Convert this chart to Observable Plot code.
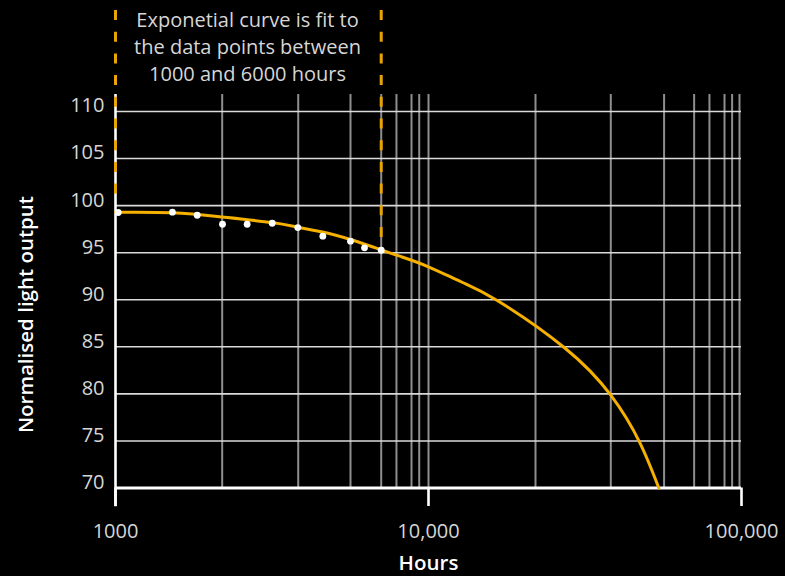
<!DOCTYPE html>
<html><head><meta charset="utf-8">
<script src="https://cdn.jsdelivr.net/npm/d3@7"></script>
<script src="https://cdn.jsdelivr.net/npm/@observablehq/plot@0.6"></script>
<style>
html,body{margin:0;padding:0;background:#000;}
#chart{width:785px;height:576px;}
</style></head><body><div id="chart"></div>
<script>
// measured data points (hours, normalised light output)
const hours = [1020, 1520, 1824, 2197, 2634, 3167, 3823, 4596, 5633, 6245, 7062];
const output = [99.27, 99.30, 98.98, 98.02, 98.02, 98.13, 97.67, 96.75, 96.22, 95.52, 95.26];
// exponential fit curve
const fitHours = [1000, 1520, 2190, 3160, 3830, 4590, 5630, 7062, 8140, 9950, 12800, 16580, 27200, 38230, 47320, 54430];
const fitOutput = [99.3, 99.25, 98.8, 98.2, 97.7, 97.2, 96.4, 95.3, 94.6, 93.53, 91.86, 89.92, 84.9, 79.86, 74.83, 70.0];
const yTicks = [70, 75, 80, 85, 90, 95, 100, 105, 110];
const xTicks = [1000, 10000, 100000];
const xTickLabels = ["1000", "10,000", "100,000"];
const xGrid = [2192, 3835, 5634, 7062, 7900, 8825, 9340, 10000, 21970, 38230, 56580, 70580, 79000, 88250, 93330, 98540];
const fitRange = [1000, 7062];
const fitRangeBottom = [100.5, 95.3];
const noteLines = ["Exponetial curve is fit to", "the data points between", "1000 and 6000 hours"];
const xTitle = "Hours";
const yTitle = "Normalised light output";

const points = hours.map((h, i) => ({h, v: output[i]}));
const fit = fitHours.map((h, i) => ({h, v: fitOutput[i]}));
const markers = fitRange.map((h, i) => ({h, bottom: fitRangeBottom[i]}));
const FONT = "'Open Sans', 'Noto Sans', sans-serif";

const chart = Plot.plot({
  width: 785,
  height: 576,
  marginLeft: 115,
  marginRight: 44,
  marginTop: 111,
  marginBottom: 88.5,
  style: {background: "black", fontFamily: FONT, fontSize: "20px", color: "#d6d6d6"},
  x: {type: "log", domain: [1000, 100000], axis: null},
  y: {domain: [70, 110], axis: null},
  marks: [
    Plot.ruleX(xGrid, {y1: 111.8, y2: 70, stroke: "#8e8e8e", strokeWidth: 2}),
    Plot.ruleY(yTicks.filter(d => d > 70), {x1: 1000, x2: 100000, stroke: "#dadada", strokeWidth: 1.6}),
    Plot.ruleY([70], {x1: 1000, x2: 100000, stroke: "white", strokeWidth: 3}),
    Plot.ruleX([1000], {y1: 111.8, y2: 68.0, stroke: "white", strokeWidth: 2.6}),
    Plot.axisX(xTicks, {tickSize: 18.5, tickPadding: 17, tickFormat: d => xTickLabels[xTicks.indexOf(d)],
      stroke: "white", strokeWidth: 2.6, fill: "#d6d6d6", fontSize: 20, label: null}),
    Plot.axisY(yTicks, {tickSize: 0, tickPadding: 11, dy: -5.5, fill: "#d6d6d6", fontSize: 20, label: null}),
    Plot.ruleX(markers, {x: "h", y1: 120.73, y2: "bottom", stroke: "#e8a400", strokeWidth: 3, strokeDasharray: "10,11.7"}),
    Plot.line(fit, {x: "h", y: "v", stroke: "#f5b000", strokeWidth: 3, curve: "natural"}),
    Plot.dot(points, {x: "h", y: "v", r: 3.4, fill: "white", stroke: "none"}),
    Plot.text([noteLines.join("\n")], {x: 2641, y: 117.0, text: d => d, lineHeight: 1.35, fontSize: 20, fill: "#d6d6d6", textAnchor: "middle", lineAnchor: "middle"}),
    Plot.text([xTitle], {frameAnchor: "bottom", dy: 75, lineAnchor: "middle", text: d => d, fontSize: 20.5, fontWeight: 600, fill: "white"}),
    Plot.text([yTitle], {x: 519.5, y: 88.43, rotate: -90, textAnchor: "middle", lineAnchor: "middle", text: d => d, fontSize: 20.5, fontWeight: 600, fill: "white"})
  ]
});
document.getElementById("chart").appendChild(chart);
</script>
</body></html>
